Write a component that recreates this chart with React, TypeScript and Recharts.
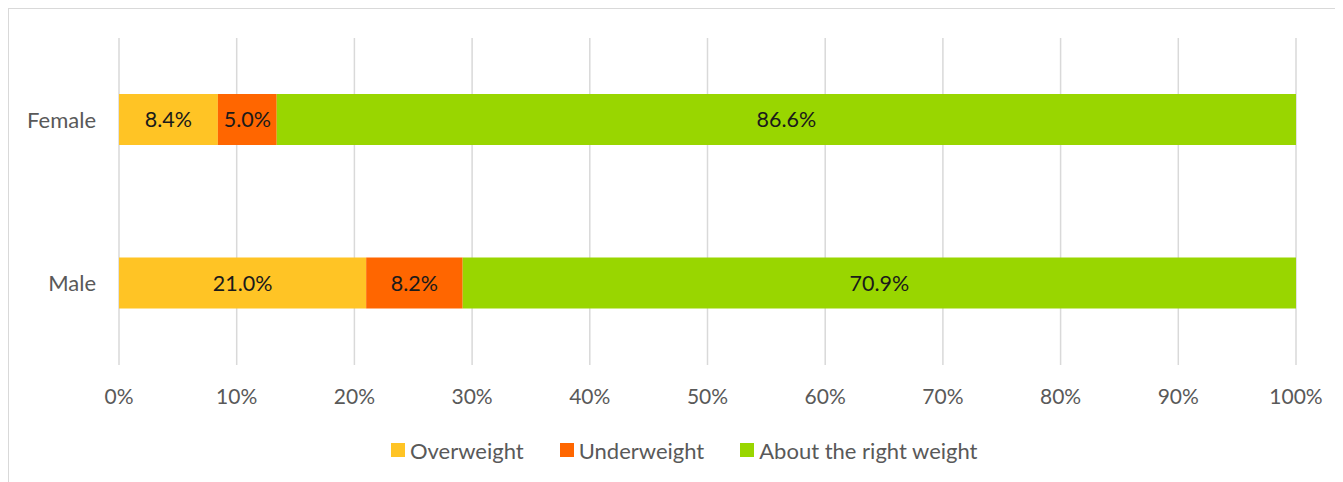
import React from 'react';
import { BarChart, Bar, XAxis, YAxis, CartesianGrid, LabelList } from 'recharts';

const categories = ['Female', 'Male'];
const overweight = [8.4, 21.0];
const underweight = [5.0, 8.2];
const aboutRight = [86.6, 70.9];
const xTicks = [0, 10, 20, 30, 40, 50, 60, 70, 80, 90, 100];
const seriesKeys = ['overweight', 'underweight', 'aboutRight'];
const seriesNames = ['Overweight', 'Underweight', 'About the right weight'];
const seriesColors = ['#FFC425', '#FF6600', '#99D600'];
const titleText = "Figure 4.12: Adolescents' self-perception of weight by sex";

const data = categories.map((c, i) => ({
  category: c,
  overweight: overweight[i],
  underweight: underweight[i],
  aboutRight: aboutRight[i],
}));

const FONT = 'Lato, "Open Sans", sans-serif';
const GREY = '#595959';

export default function App() {
  return (
    <div style={{ position: 'relative', width: 1335, height: 474 }}>
      <svg
        width={1343}
        height={8}
        viewBox="0 -30 1343 8"
        style={{ position: 'absolute', left: -8, top: -8, display: 'block' }}
      >
        <text
          x={6}
          y={-28}
          fontFamily="DejaVu Serif"
          fontWeight="bold"
          fontStyle="italic"
          fontSize={32.4}
          fill="#000"
        >
          {titleText}
        </text>
      </svg>
      <div
        style={{
          position: 'absolute',
          left: 0,
          top: 0,
          width: 1335,
          height: 474,
          borderTop: '1px solid #d9d9d9',
          borderLeft: '1px solid #d9d9d9',
          boxSizing: 'border-box',
        }}
      />
      <div style={{ position: 'absolute', left: 0, top: 0 }}>
        <BarChart
          layout="vertical"
          width={1335}
          height={474}
          data={data}
          margin={{ top: 30, right: 47, left: 0, bottom: 87 }}
        >
          <CartesianGrid horizontal={false} vertical={true} stroke="#d9d9d9" strokeWidth={1.5} />
          <XAxis
            type="number"
            domain={[0, 100]}
            ticks={xTicks}
            allowDataOverflow={true}
            tickFormatter={(v: number) => `${v}%`}
            height={30}
            tickLine={false}
            axisLine={false}
            tickSize={0}
            tickMargin={24}
            tick={{ fill: GREY, fontSize: 21, fontFamily: FONT }}
          />
          <YAxis
            type="category"
            dataKey="category"
            width={111}
            tickLine={false}
            axisLine={false}
            tickSize={0}
            tickMargin={23}
            tick={{ fill: GREY, fontSize: 22, fontFamily: FONT }}
          />
          {seriesKeys.map((k, i) => (
            <Bar
              key={k}
              dataKey={k}
              name={seriesNames[i]}
              stackId="a"
              fill={seriesColors[i]}
              barSize={51}
              isAnimationActive={false}
            >
              <LabelList
                dataKey={k}
                position="center"
                fill="#1a1a1a"
                style={{ fontSize: 21.5, fontFamily: FONT }}
                formatter={(v: any) => `${Number(v).toFixed(1)}%`}
              />
            </Bar>
          ))}
        </BarChart>
      </div>
      <div
        style={{
          position: 'absolute',
          left: 383,
          top: 428,
          height: 28,
          display: 'flex',
          alignItems: 'center',
          fontFamily: FONT,
          fontSize: 22,
          color: GREY,
          whiteSpace: 'nowrap',
        }}
      >
        {seriesNames.map((n, i) => (
          <div key={n} style={{ display: 'flex', alignItems: 'center', marginRight: 36 }}>
            <span style={{ display: 'inline-block', width: 14, height: 14, background: seriesColors[i], marginRight: 5 }} />
            <span>{n}</span>
          </div>
        ))}
      </div>
    </div>
  );
}
